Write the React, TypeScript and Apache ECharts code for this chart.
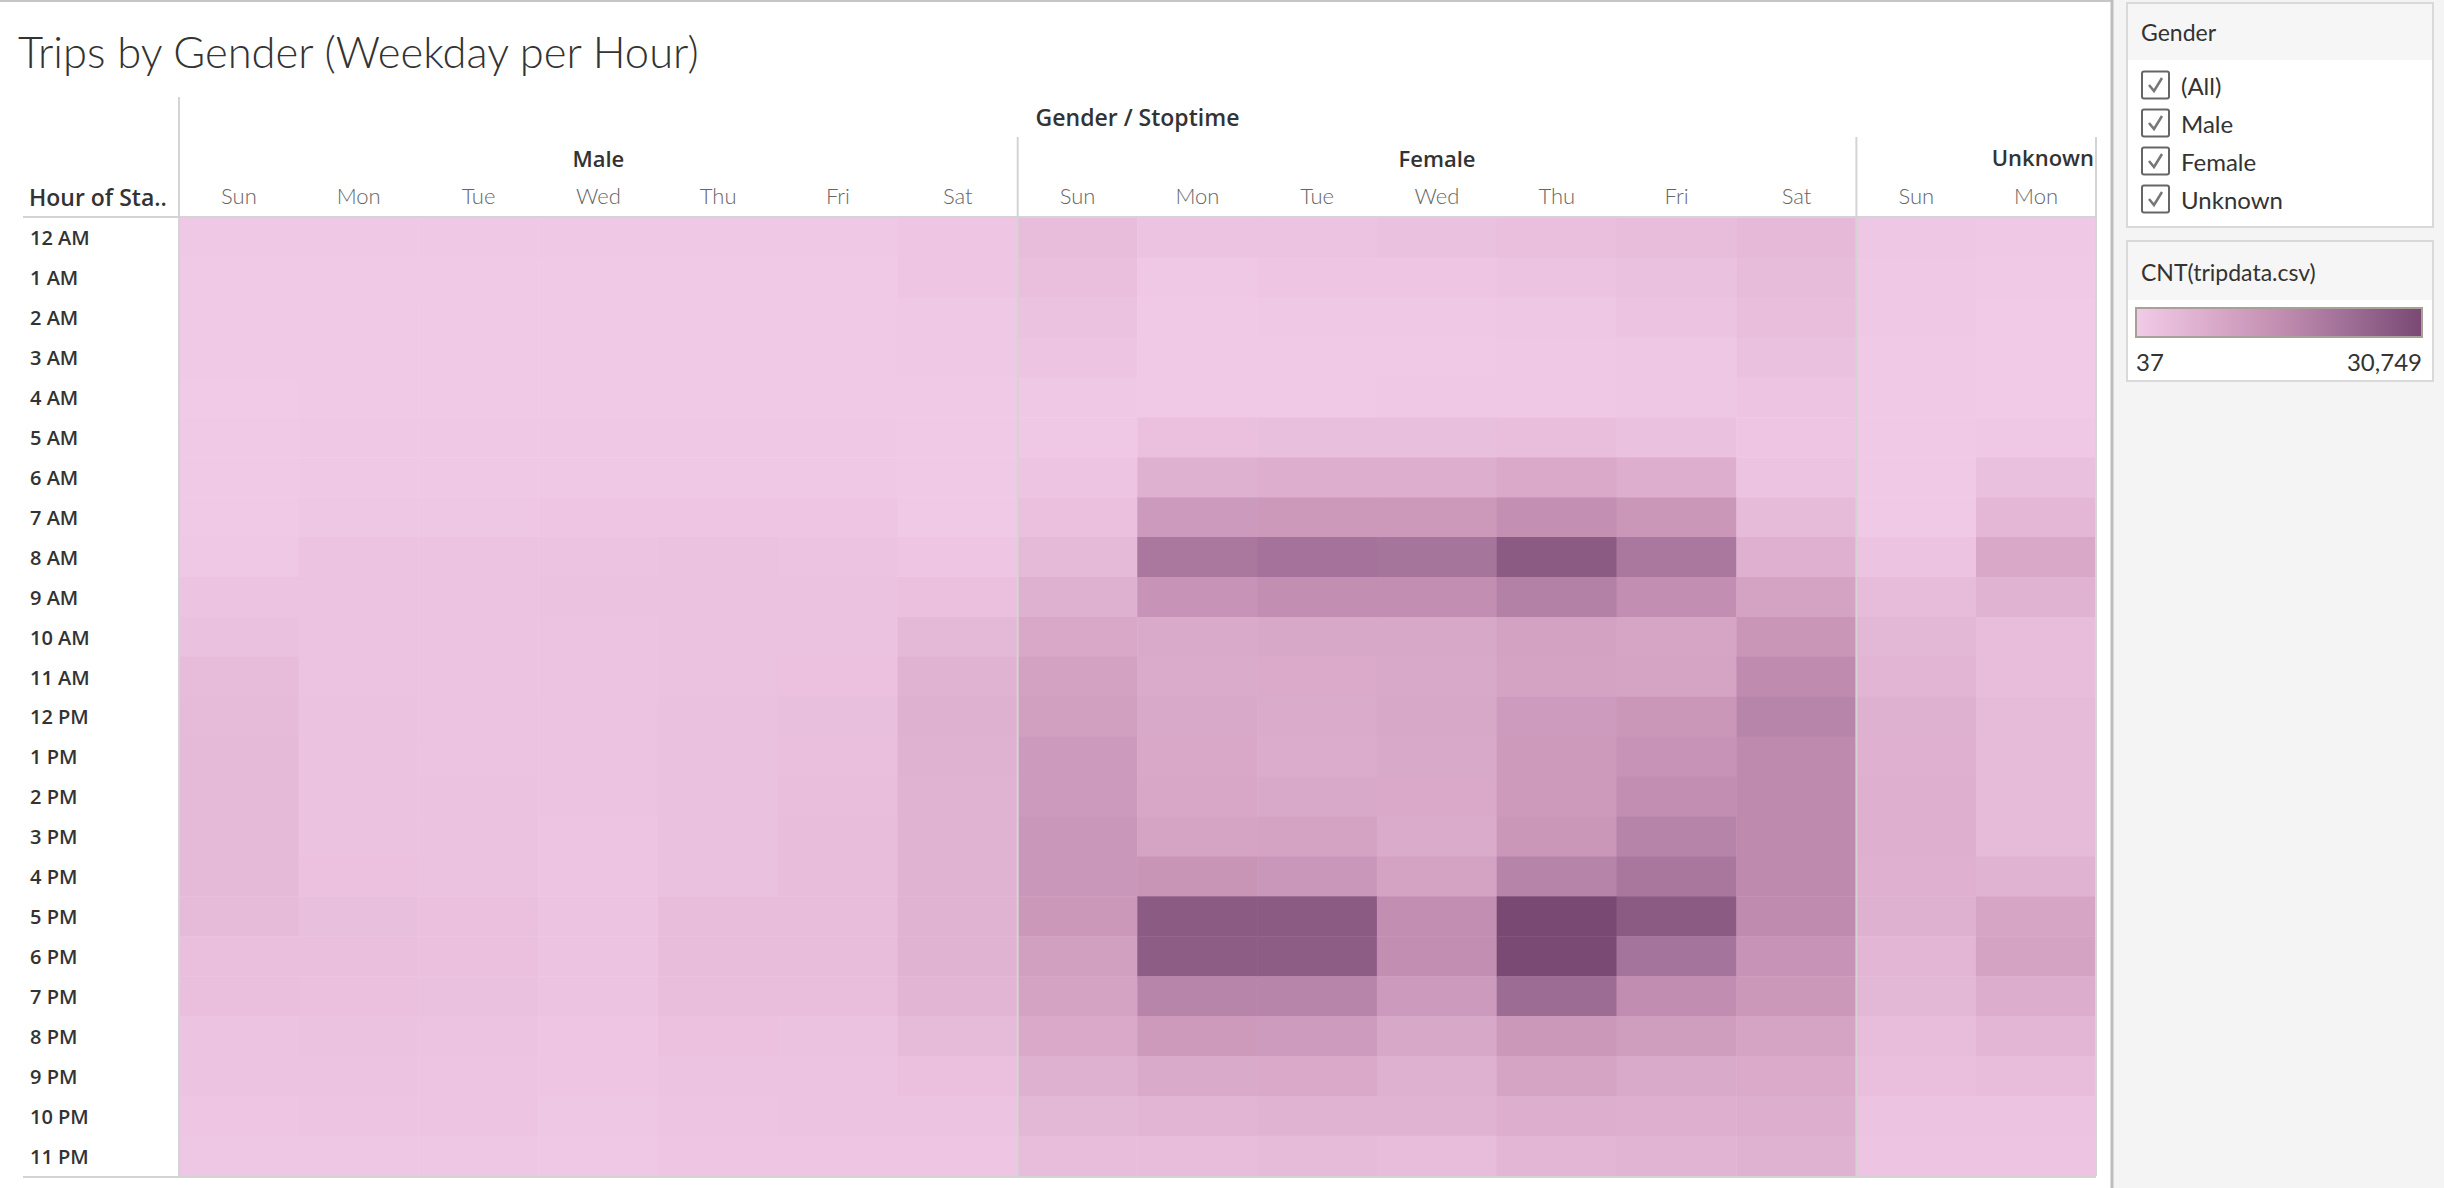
import React, { useEffect, useRef } from "react";
import * as echarts from "echarts";

const hours = ["12 AM","1 AM","2 AM","3 AM","4 AM","5 AM","6 AM","7 AM","8 AM","9 AM","10 AM","11 AM","12 PM","1 PM","2 PM","3 PM","4 PM","5 PM","6 PM","7 PM","8 PM","9 PM","10 PM","11 PM"];
const days = ["Sun","Mon","Tue","Wed","Thu","Fri","Sat"];
const genders = ["Male","Female","Unknown"];

const maleSun = [800,550,500,450,400,450,550,650,900,1800,2500,3700,4000,4300,4400,4400,4300,3900,3100,3000,2000,1800,1300,1000];
const maleMon = [800,600,550,500,550,700,900,1100,1800,1900,1800,1900,2100,2200,2200,2200,2400,2900,3000,2700,2200,1800,1500,1100];
const maleTue = [750,600,500,500,550,700,900,1100,1800,1800,1700,1800,1800,2000,2100,2200,2300,2700,2700,2500,1900,1600,1400,1000];
const maleWed = [750,600,500,500,550,700,900,1200,1900,2100,1800,1800,1900,1900,1800,1500,1500,1700,1800,1700,1300,1200,1000,800];
const maleThu = [800,600,500,500,550,700,900,1300,2100,2200,2200,2300,2500,2600,2600,2600,2600,3400,3400,3300,2400,1900,1500,1200];
const maleFri = [800,600,550,500,550,700,900,1200,1900,2100,2200,2400,2900,3100,3300,3400,3500,3500,3500,3300,2300,1900,1800,1300];
const maleSat = [1300,1200,900,700,500,450,500,600,1200,2700,4800,6000,6600,6200,6000,6000,6000,6000,5900,5500,4000,2700,1900,1300];

const femaleSun = [3400,3000,2100,1600,800,800,1400,2700,4500,6600,8700,10500,11000,12300,12300,13200,13200,12800,11000,10000,8400,6500,5100,3500];
const femaleMon = [1700,800,600,500,600,2700,6600,12300,20500,14000,8200,8000,8500,8700,8900,9800,13600,27000,26500,17500,12200,8200,5500,3500];
const femaleTue = [1700,1200,700,500,600,2900,7300,12500,21800,15300,8800,8100,8000,7800,8500,10000,13200,27000,26500,17500,12000,8400,6000,3900];
const femaleWed = [2600,1300,800,500,700,2900,7200,12500,21300,15300,8800,8500,8800,8600,8400,8000,10200,15400,15300,12300,8800,6500,6000,3600];
const femaleThu = [3100,1800,1000,800,900,3300,8400,15200,27000,18500,10400,10000,12000,12200,12200,13000,17800,30749,30500,23200,12800,9800,7200,5200];
const femaleFri = [3600,2600,1700,1100,1100,2500,7200,13000,20500,15300,9600,9800,13000,14000,15300,17800,20700,27000,21500,15500,11600,8300,7000,5700];
const femaleSat = [4600,3800,3300,2600,1400,1200,1700,4000,6700,10200,13300,16000,17500,16300,16300,16300,16300,16000,14000,12800,9800,8100,7300,6200];

const unknownSun = [1000,800,700,500,500,500,500,600,1700,3800,5100,5400,6500,6800,6900,6900,6800,6500,5300,5100,3600,3100,1900,1400];
const unknownMon = [800,500,400,350,400,700,2800,4900,8700,6100,3500,3500,4100,4100,4100,4100,5900,9500,10000,7500,5300,3500,1900,1400];

const columnValues = [
  maleSun, maleMon, maleTue, maleWed, maleThu, maleFri, maleSat,
  femaleSun, femaleMon, femaleTue, femaleWed, femaleThu, femaleFri, femaleSat,
  unknownSun, unknownMon,
];
const columnDays = [...days, ...days, "Sun", "Mon"];
const colorStops = ["#f1cbe8", "#dcaccc", "#c28eb1", "#9e6d96", "#7a4973"];
const minCount = 37;
const maxCount = 30749;
const filterItems = ["(All)", "Male", "Female", "Unknown"];

export default function App() {
  const ref = useRef<HTMLDivElement>(null);
  useEffect(() => {
    if (!ref.current) return;
    const chart = echarts.init(ref.current, null, { renderer: "svg" });
    const data: number[][] = [];
    columnValues.forEach((col, ci) => col.forEach((v, hi) => data.push([ci, hi, v])));

    const gridLeft = 179, gridTop = 218, gridW = 1917, gridH = 958;
    const colW = gridW / 16;
    const gridBottom = gridTop + gridH;
    const lineColor = "#d4d4d4";
    const mkLine = (x1: number, y1: number, x2: number, y2: number, stroke = lineColor, w = 2) => ({
      type: "line", z: 100, silent: true,
      shape: { x1, y1, x2, y2 }, style: { stroke, lineWidth: w },
    });

    const graphics: any[] = [
      { type: "rect", z: -1, shape: { x: 2113, y: 0, width: 331, height: 1188 }, style: { fill: "#f4f4f4" } },
      mkLine(0, 1, 2112, 1, "#c6c6c6", 2),
      mkLine(2112, 0, 2112, 1188, "#bdbdbd", 3),
      mkLine(gridLeft, 97, gridLeft, gridBottom),
      mkLine(gridLeft + 7 * colW, 137, gridLeft + 7 * colW, gridBottom),
      mkLine(gridLeft + 14 * colW, 137, gridLeft + 14 * colW, gridBottom),
      mkLine(gridLeft + gridW, 137, gridLeft + gridW, gridBottom),
      mkLine(23, gridTop - 1, gridLeft + gridW, gridTop - 1),
      mkLine(23, gridBottom + 1, gridLeft + gridW, gridBottom + 1),
      {
        type: "text", z: 100, x: 18, y: 51,
        style: { text: "Trips by Gender (Weekday per Hour)", fontFamily: "Lato", fontWeight: 300, fontSize: 43.5, fill: "#333", verticalAlign: "middle" },
      },
      {
        type: "text", z: 100, x: (gridLeft + gridLeft + gridW) / 2, y: 117,
        style: { text: "Gender / Stoptime", fontFamily: "Open Sans", fontWeight: 600, fontSize: 23, fill: "#333", align: "center", verticalAlign: "middle" },
      },
      {
        type: "text", z: 100, x: gridLeft + gridW - 2, y: 157,
        style: { text: genders[2], fontFamily: "Open Sans", fontWeight: 600, fontSize: 22, fill: "#333", align: "right", verticalAlign: "middle" },
      },
      {
        type: "text", z: 100, x: 29, y: 197,
        style: { text: "Hour of Sta..", fontFamily: "Open Sans", fontWeight: 600, fontSize: 23, fill: "#333", verticalAlign: "middle" },
      },
      // Gender filter card
      { type: "rect", shape: { x: 2127, y: 3, width: 306, height: 224 }, style: { fill: "#fff", stroke: "#d9d9d9", lineWidth: 2 } },
      { type: "rect", shape: { x: 2128, y: 4, width: 304, height: 56 }, style: { fill: "#f6f6f6" } },
      { type: "text", x: 2141, y: 32, style: { text: "Gender", fontFamily: "Lato", fontSize: 23, fill: "#333", verticalAlign: "middle" } },
      // CNT card
      { type: "rect", shape: { x: 2127, y: 241, width: 306, height: 140 }, style: { fill: "#fff", stroke: "#d9d9d9", lineWidth: 2 } },
      { type: "rect", shape: { x: 2128, y: 242, width: 304, height: 58 }, style: { fill: "#f6f6f6" } },
      { type: "text", x: 2141, y: 272, style: { text: "CNT(tripdata.csv)", fontFamily: "Lato", fontSize: 23, fill: "#333", verticalAlign: "middle" } },
      {
        type: "rect", shape: { x: 2136, y: 308, width: 286, height: 29 },
        style: {
          fill: new echarts.graphic.LinearGradient(0, 0, 1, 0, colorStops.map((c, i) => ({ offset: i / (colorStops.length - 1), color: c }))),
          stroke: "#a8a197", lineWidth: 2,
        },
      },
      { type: "text", x: 2136, y: 361, style: { text: String(minCount), fontFamily: "Lato", fontSize: 24, fill: "#333", verticalAlign: "middle" } },
      { type: "text", x: 2422, y: 361, style: { text: maxCount.toLocaleString("en-US"), fontFamily: "Lato", fontSize: 24, fill: "#333", align: "right", verticalAlign: "middle" } },
    ];
    filterItems.forEach((label, i) => {
      const cy = 85 + i * 38;
      graphics.push({ type: "rect", shape: { x: 2142, y: cy - 13.5, width: 27, height: 27, r: 2 }, style: { fill: "#fff", stroke: "#666", lineWidth: 2 } });
      graphics.push({ type: "polyline", shape: { points: [[2149, cy], [2154, cy + 6], [2162, cy - 7]] }, style: { stroke: "#777", lineWidth: 2.5, fill: null } });
      graphics.push({ type: "text", x: 2181, y: cy, style: { text: label, fontFamily: "Lato", fontSize: 24, fill: "#333", verticalAlign: "middle" } });
    });

    chart.setOption({
      animation: false,
      backgroundColor: "#ffffff",
      grid: { left: gridLeft, top: gridTop, width: gridW, height: gridH, containLabel: false },
      xAxis: [
        {
          type: "category", data: columnDays, position: "top",
          axisLine: { show: false }, axisTick: { show: false }, splitLine: { show: false },
          axisLabel: { interval: 0, margin: 12, fontSize: 22, color: "#666", fontFamily: "Lato", fontWeight: 300 },
        },
        {
          type: "category", data: columnDays, position: "top", offset: 41,
          axisLine: { show: false }, axisTick: { show: false }, splitLine: { show: false },
          axisLabel: {
            interval: 0, margin: 8, fontSize: 22, color: "#333", fontFamily: "Open Sans", fontWeight: 600,
            formatter: (_v: string, idx: number) => (idx === 3 ? genders[0] : idx === 10 ? genders[1] : ""),
          },
        },
      ],
      yAxis: {
        type: "category", data: hours, inverse: true,
        axisLine: { show: false }, axisTick: { show: false }, splitLine: { show: false },
        axisLabel: { interval: 0, align: "left", margin: gridLeft - 30, fontSize: 20, color: "#333", fontFamily: "Open Sans", fontWeight: 600 },
      },
      visualMap: {
        type: "continuous", show: false, min: minCount, max: maxCount, dimension: 2,
        inRange: { color: colorStops },
      },
      graphic: graphics,
      series: [
        {
          type: "heatmap", xAxisIndex: 0, yAxisIndex: 0, data,
          itemStyle: { borderWidth: 0 },
          emphasis: { disabled: true },
        },
      ],
    });
    return () => chart.dispose();
  }, []);
  return <div ref={ref} style={{ position: "fixed", left: 0, top: 0, width: 2444, height: 1188, background: "#fff" }} />;
}
